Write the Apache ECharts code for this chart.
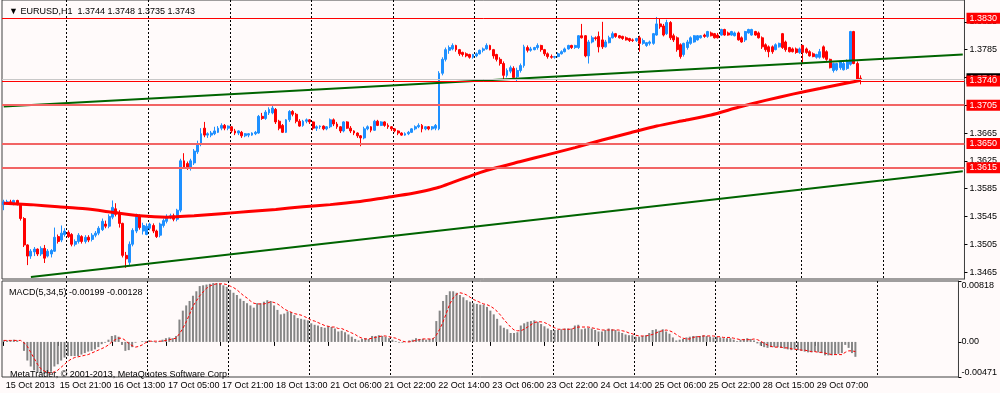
<!DOCTYPE html>
<html><head><meta charset="utf-8">
<script src="https://cdn.jsdelivr.net/npm/echarts@6/dist/echarts.min.js"></script>
<style>html,body{margin:0;padding:0;background:#FFFAFA}#c{width:1000px;height:393px}</style>
</head><body><div id="c"></div><script>
const tickLabels = ['15 Oct 2013','15 Oct 21:00','16 Oct 13:00','17 Oct 05:00','17 Oct 21:00','18 Oct 13:00','21 Oct 06:00','21 Oct 22:00','22 Oct 14:00','23 Oct 06:00','23 Oct 22:00','24 Oct 14:00','25 Oct 06:00','25 Oct 22:00','28 Oct 15:00','29 Oct 07:00'];
const opens = [1.3562,1.3564,1.3566,1.3564,1.3568,1.3562,1.3542,1.3504,1.3488,1.3494,
1.3498,1.3491,1.3499,1.3488,1.3491,1.3495,1.3516,1.3511,1.3519,1.3522,
1.3519,1.3505,1.3509,1.3516,1.3509,1.3515,1.3512,1.3518,1.3521,1.3526,
1.3534,1.3531,1.3544,1.3556,1.3549,1.3535,1.3489,1.3479,1.3505,1.3524,
1.3545,1.3524,1.3519,1.3528,1.3532,1.3524,1.3518,1.3532,1.3538,1.3544,
1.3546,1.3541,1.3554,1.3625,1.3621,1.3614,1.3622,1.3638,1.3649,1.3672,
1.3662,1.3662,1.3664,1.3666,1.3672,1.3676,1.3672,1.3674,1.3668,1.3665,
1.3666,1.3661,1.3662,1.3662,1.3664,1.3665,1.3689,1.3686,1.3694,1.3694,
1.3699,1.3682,1.3676,1.3666,1.3684,1.3696,1.3692,1.3682,1.3676,1.3682,
1.3684,1.3681,1.3672,1.3674,1.3675,1.3671,1.3674,1.3684,1.3678,1.3674,
1.3668,1.3681,1.3672,1.3668,1.3665,1.3661,1.3658,1.3671,1.3674,1.3669,
1.3682,1.3676,1.3681,1.3676,1.3674,1.3671,1.3668,1.3665,1.3662,1.3664,
1.3666,1.3671,1.3674,1.3676,1.3671,1.3674,1.3671,1.3672,1.3671,1.3751,
1.3771,1.3784,1.3786,1.3791,1.3785,1.3781,1.3779,1.3778,1.3774,1.3776,
1.3779,1.3784,1.3786,1.3791,1.3785,1.3778,1.3771,1.3765,1.3748,1.3754,
1.3758,1.3746,1.3755,1.3762,1.3788,1.3784,1.3785,1.3788,1.3791,1.3785,
1.3779,1.3775,1.3774,1.3775,1.3779,1.3782,1.3786,1.3791,1.3788,1.3788,
1.3805,1.3805,1.3776,1.3796,1.3802,1.3804,1.3799,1.3789,1.3795,1.3802,
1.3808,1.3805,1.3804,1.3802,1.3801,1.3799,1.3798,1.3802,1.3794,1.3791,
1.3794,1.3794,1.3806,1.3822,1.3819,1.3808,1.3824,1.3805,1.3802,1.3792,
1.3778,1.3788,1.3794,1.3796,1.3799,1.3802,1.3806,1.3804,1.3809,1.3808,
1.3806,1.3806,1.3814,1.3809,1.3806,1.3805,1.3809,1.3802,1.3799,1.3809,
1.3806,1.3811,1.3809,1.3802,1.3792,1.3789,1.3789,1.3785,1.3789,1.3808,
1.3796,1.3788,1.3786,1.3786,1.3781,1.3791,1.3786,1.3782,1.3779,1.3774,
1.3774,1.3789,1.3782,1.3771,1.3755,1.3756,1.3759,1.3756,1.3758,1.3764,
1.3811,1.3765,1.3744];
const closes = [1.3566,1.3566,1.3564,1.3568,1.3562,1.3542,1.3504,1.3488,1.3495,1.3498,
1.3491,1.3499,1.3485,1.3495,1.3496,1.3515,1.3509,1.3521,1.3524,1.3516,
1.3505,1.3509,1.3518,1.3509,1.3515,1.3511,1.3518,1.3521,1.3528,1.3538,
1.3531,1.3545,1.3558,1.3548,1.3535,1.3489,1.3484,1.3505,1.3525,1.3545,
1.3529,1.3532,1.3531,1.3534,1.3524,1.3516,1.3534,1.3539,1.3545,1.3546,
1.3541,1.3554,1.3625,1.3616,1.3614,1.3625,1.3639,1.3649,1.3664,1.3662,
1.3664,1.3665,1.3668,1.3672,1.3676,1.3672,1.3675,1.3668,1.3665,1.3668,
1.3661,1.3664,1.3664,1.3665,1.3666,1.3689,1.3686,1.3695,1.3699,1.3701,
1.3681,1.3672,1.3666,1.3684,1.3696,1.3692,1.3682,1.3675,1.3682,1.3684,
1.3681,1.3672,1.3674,1.3675,1.3671,1.3674,1.3684,1.3678,1.3674,1.3668,
1.3681,1.3672,1.3668,1.3665,1.3661,1.3658,1.3671,1.3674,1.3669,1.3682,
1.3676,1.3681,1.3676,1.3674,1.3671,1.3668,1.3665,1.3662,1.3664,1.3666,
1.3671,1.3674,1.3676,1.3671,1.3674,1.3671,1.3674,1.3676,1.3751,1.3771,
1.3785,1.3788,1.3791,1.3785,1.3779,1.3778,1.3776,1.3774,1.3778,1.3779,
1.3784,1.3786,1.3791,1.3785,1.3776,1.3771,1.3765,1.3748,1.3755,1.3759,
1.3745,1.3755,1.3762,1.3789,1.3784,1.3786,1.3788,1.3791,1.3785,1.3779,
1.3775,1.3774,1.3775,1.3779,1.3782,1.3786,1.3791,1.3788,1.3791,1.3805,
1.3802,1.3776,1.3796,1.3802,1.3801,1.3789,1.3789,1.3796,1.3802,1.3808,
1.3804,1.3802,1.3801,1.3799,1.3798,1.3798,1.3801,1.3794,1.3798,1.3795,
1.3796,1.3808,1.3822,1.3818,1.3806,1.3824,1.3802,1.3799,1.3785,1.3775,
1.3794,1.3796,1.3802,1.3805,1.3805,1.3805,1.3804,1.3811,1.3805,1.3802,
1.3802,1.3814,1.3806,1.3806,1.3811,1.3809,1.3799,1.3796,1.3811,1.3814,
1.3814,1.3806,1.3802,1.3789,1.3785,1.3782,1.3782,1.3792,1.3794,1.3788,
1.3785,1.3782,1.3782,1.3781,1.3786,1.3781,1.3781,1.3776,1.3775,1.3778,
1.3782,1.3774,1.3771,1.3759,1.3765,1.3765,1.3768,1.3765,1.3768,1.3811,
1.3765,1.3742,1.3743];
const highs = [1.3569,1.3569,1.3569,1.3569,1.3569,1.3564,1.3544,1.3505,1.3498,1.3501,
1.3499,1.3502,1.3504,1.3498,1.3498,1.3529,1.3519,1.3532,1.3528,1.3525,
1.3521,1.3512,1.3521,1.3518,1.3518,1.3518,1.3521,1.3524,1.3531,1.3542,
1.3539,1.3548,1.3568,1.3564,1.3554,1.3536,1.3494,1.3509,1.3528,1.3549,
1.3548,1.3536,1.3535,1.3536,1.3535,1.3526,1.3536,1.3542,1.3548,1.3549,
1.3549,1.3556,1.3628,1.3636,1.3624,1.3628,1.3642,1.3654,1.3672,1.3681,
1.3666,1.3668,1.3674,1.3675,1.3679,1.3678,1.3676,1.3675,1.3671,1.3669,
1.3668,1.3665,1.3665,1.3666,1.3668,1.3691,1.3694,1.3698,1.3702,1.3704,
1.3701,1.3684,1.3678,1.3685,1.3698,1.3698,1.3694,1.3685,1.3684,1.3686,
1.3685,1.3682,1.3676,1.3676,1.3676,1.3675,1.3686,1.3686,1.3681,1.3675,
1.3682,1.3682,1.3675,1.3669,1.3666,1.3662,1.3674,1.3676,1.3675,1.3684,
1.3684,1.3682,1.3682,1.3679,1.3675,1.3672,1.3669,1.3666,1.3666,1.3668,
1.3672,1.3676,1.3679,1.3678,1.3675,1.3675,1.3675,1.3678,1.3754,1.3774,
1.3788,1.3791,1.3794,1.3792,1.3786,1.3782,1.3781,1.3779,1.3779,1.3781,
1.3785,1.3788,1.3794,1.3792,1.3786,1.3779,1.3774,1.3768,1.3758,1.3762,
1.3761,1.3759,1.3765,1.3792,1.3791,1.3789,1.3789,1.3794,1.3792,1.3786,
1.3781,1.3778,1.3776,1.3781,1.3784,1.3788,1.3792,1.3792,1.3792,1.3806,
1.3822,1.3806,1.3799,1.3805,1.3804,1.3811,1.3825,1.3799,1.3805,1.3811,
1.3809,1.3806,1.3805,1.3804,1.3802,1.3801,1.3802,1.3805,1.3801,1.3796,
1.3798,1.3809,1.3832,1.3829,1.3822,1.3828,1.3826,1.3808,1.3804,1.3794,
1.3795,1.3799,1.3804,1.3806,1.3806,1.3806,1.3808,1.3812,1.3811,1.3809,
1.3809,1.3815,1.3815,1.3811,1.3812,1.3811,1.3811,1.3804,1.3812,1.3815,
1.3815,1.3812,1.3811,1.3804,1.3794,1.3791,1.3791,1.3794,1.3795,1.3809,
1.3798,1.3789,1.3788,1.3788,1.3788,1.3792,1.3788,1.3784,1.3781,1.3779,
1.3786,1.3791,1.3784,1.3772,1.3766,1.3766,1.3769,1.3768,1.3771,1.3812,
1.3812,1.3768,1.3748];
const lows = [1.3554,1.3562,1.3562,1.3561,1.3561,1.3539,1.3501,1.3475,1.3484,1.3488,
1.3488,1.3488,1.3478,1.3486,1.3486,1.3494,1.3506,1.3508,1.3516,1.3514,
1.3502,1.3502,1.3506,1.3506,1.3506,1.3508,1.3509,1.3515,1.3518,1.3524,
1.3528,1.3528,1.3541,1.3545,1.3529,1.3486,1.3471,1.3474,1.3502,1.3521,
1.3526,1.3519,1.3518,1.3525,1.3521,1.3514,1.3515,1.3529,1.3535,1.3541,
1.3538,1.3538,1.3551,1.3614,1.3612,1.3611,1.3619,1.3635,1.3646,1.3659,
1.3658,1.3659,1.3662,1.3665,1.3669,1.3669,1.3669,1.3665,1.3662,1.3662,
1.3658,1.3659,1.3659,1.3661,1.3662,1.3664,1.3684,1.3684,1.3691,1.3692,
1.3678,1.3669,1.3665,1.3665,1.3681,1.3689,1.3679,1.3674,1.3674,1.3679,
1.3678,1.3669,1.3668,1.3671,1.3669,1.3669,1.3672,1.3675,1.3671,1.3665,
1.3666,1.3671,1.3665,1.3662,1.3658,1.3646,1.3656,1.3669,1.3666,1.3668,
1.3675,1.3675,1.3674,1.3671,1.3668,1.3666,1.3662,1.3661,1.3661,1.3662,
1.3665,1.3669,1.3672,1.3666,1.3669,1.3669,1.3669,1.3669,1.3669,1.3748,
1.3768,1.3779,1.3784,1.3782,1.3776,1.3775,1.3774,1.3772,1.3772,1.3774,
1.3778,1.3781,1.3785,1.3784,1.3772,1.3768,1.3762,1.3742,1.3745,1.3751,
1.3742,1.3739,1.3752,1.3759,1.3781,1.3782,1.3784,1.3785,1.3782,1.3776,
1.3772,1.3772,1.3772,1.3774,1.3778,1.3781,1.3785,1.3786,1.3786,1.3786,
1.3801,1.3774,1.3765,1.3794,1.3798,1.3781,1.3786,1.3788,1.3794,1.3801,
1.3802,1.3801,1.3799,1.3798,1.3796,1.3796,1.3796,1.3782,1.3792,1.3789,
1.3791,1.3792,1.3805,1.3815,1.3804,1.3806,1.3799,1.3796,1.3782,1.3772,
1.3775,1.3785,1.3792,1.3795,1.3798,1.3801,1.3802,1.3802,1.3804,1.3801,
1.3801,1.3805,1.3805,1.3805,1.3805,1.3804,1.3798,1.3795,1.3796,1.3808,
1.3805,1.3805,1.3801,1.3786,1.3782,1.3774,1.3779,1.3784,1.3788,1.3786,
1.3782,1.3781,1.3781,1.3779,1.3779,1.3765,1.3779,1.3775,1.3774,1.3772,
1.3772,1.3772,1.3769,1.3758,1.3752,1.3754,1.3756,1.3755,1.3756,1.3762,
1.3764,1.3739,1.3735];
const maPoints = [[0,1.3564],[8,1.3562],[16,1.3559],[24,1.3556],[32,1.3551],[40,1.3546],[48,1.3544],[56,1.3546],[64,1.3549],[72,1.3552],[80,1.3555],[88,1.3559],[96,1.3562],[104,1.3566],[112,1.3572],[120,1.3578],[124,1.3582],[128,1.3587],[132,1.3594],[136,1.3601],[140,1.3608],[144,1.3614],[152,1.3624],[160,1.3634],[168,1.3644],[176,1.3655],[184,1.3665],[192,1.3675],[200,1.3683],[208,1.3691],[216,1.3702],[224,1.3712],[232,1.3721],[240,1.3729],[248,1.3737],[252,1.3741]];
const upperTrend = [[0,1.3703],[282,1.3778]];
const lowerTrend = [[8,1.3458],[282,1.3610]];
const priceLevels = [1.3830,1.3740,1.3705,1.3650,1.3615];
const bidPrice = 1.3743;
const priceTicks = [1.3465,1.3505,1.3545,1.3585,1.3625,1.3665,1.3705,1.3745,1.3785,1.3825];
const macdTicks = [0.00818,0,-0.00471];
const macdHist = [0.0002,0.0002,0.0002,0.0003,0.0002,0.0000,-0.0012,-0.0025,-0.0033,-0.0038,
-0.0041,-0.0042,-0.0043,-0.0042,-0.0040,-0.0033,-0.0030,-0.0025,-0.0021,-0.0019,
-0.0019,-0.0019,-0.0019,-0.0017,-0.0015,-0.0013,-0.0012,-0.0010,-0.0007,-0.0003,
-0.0001,0.0003,0.0008,0.0009,0.0007,-0.0004,-0.0012,-0.0011,-0.0007,-0.0001,
0.0000,0.0001,0.0001,0.0002,0.0001,-0.0001,0.0001,0.0003,0.0005,0.0006,
0.0005,0.0008,0.0030,0.0042,0.0049,0.0055,0.0062,0.0068,0.0075,0.0076,
0.0077,0.0078,0.0079,0.0079,0.0078,0.0076,0.0074,0.0070,0.0066,0.0063,
0.0058,0.0055,0.0052,0.0049,0.0046,0.0052,0.0052,0.0054,0.0056,0.0055,
0.0049,0.0043,0.0037,0.0038,0.0041,0.0040,0.0036,0.0032,0.0031,0.0030,
0.0029,0.0025,0.0023,0.0022,0.0020,0.0019,0.0021,0.0020,0.0018,0.0014,
0.0015,0.0013,0.0010,0.0007,0.0004,0.0002,0.0004,0.0005,0.0004,0.0008,
0.0008,0.0009,0.0008,0.0007,0.0005,0.0003,0.0001,-0.0001,-0.0001,0.0000,
0.0002,0.0003,0.0005,0.0004,0.0004,0.0003,0.0004,0.0005,0.0028,0.0042,
0.0055,0.0063,0.0068,0.0068,0.0066,0.0063,0.0060,0.0056,0.0054,0.0052,
0.0051,0.0050,0.0050,0.0047,0.0042,0.0037,0.0031,0.0022,0.0019,0.0017,
0.0012,0.0012,0.0013,0.0022,0.0025,0.0027,0.0028,0.0029,0.0027,0.0024,
0.0021,0.0018,0.0016,0.0016,0.0016,0.0017,0.0018,0.0018,0.0018,0.0022,
0.0023,0.0017,0.0018,0.0019,0.0018,0.0016,0.0014,0.0014,0.0016,0.0018,
0.0017,0.0016,0.0014,0.0012,0.0010,0.0009,0.0009,0.0007,0.0007,0.0008,
0.0009,0.0012,0.0016,0.0017,0.0015,0.0017,0.0014,0.0011,0.0006,0.0002,
0.0003,0.0004,0.0006,0.0007,0.0008,0.0008,0.0008,0.0009,0.0008,0.0007,
0.0006,0.0007,0.0006,0.0005,0.0005,0.0005,0.0003,0.0001,0.0003,0.0004,
0.0005,0.0004,0.0002,-0.0002,-0.0005,-0.0007,-0.0008,-0.0007,-0.0007,-0.0007,
-0.0008,-0.0009,-0.0010,-0.0011,-0.0010,-0.0011,-0.0012,-0.0013,-0.0014,-0.0014,
-0.0013,-0.0014,-0.0015,-0.0018,-0.0018,-0.0018,-0.0017,-0.0016,-0.0015,-0.0004,
-0.0008,-0.0015,-0.0020];
const macdSignal = [0.0002,0.0002,0.0002,0.0002,0.0002,0.0002,-0.0001,-0.0006,-0.0014,-0.0022,
-0.0030,-0.0036,-0.0039,-0.0041,-0.0042,-0.0040,-0.0038,-0.0034,-0.0030,-0.0026,
-0.0023,-0.0021,-0.0020,-0.0019,-0.0018,-0.0017,-0.0015,-0.0013,-0.0011,-0.0009,
-0.0007,-0.0004,0.0000,0.0003,0.0005,0.0005,0.0002,-0.0002,-0.0005,-0.0007,
-0.0006,-0.0004,-0.0001,0.0001,0.0001,0.0001,0.0001,0.0001,0.0002,0.0003,
0.0004,0.0005,0.0011,0.0018,0.0027,0.0037,0.0048,0.0055,0.0062,0.0067,
0.0072,0.0075,0.0077,0.0078,0.0078,0.0078,0.0077,0.0075,0.0073,0.0070,
0.0066,0.0062,0.0059,0.0055,0.0052,0.0051,0.0051,0.0051,0.0052,0.0054,
0.0053,0.0051,0.0048,0.0044,0.0042,0.0040,0.0038,0.0037,0.0036,0.0034,
0.0032,0.0029,0.0028,0.0026,0.0024,0.0022,0.0021,0.0020,0.0020,0.0018,
0.0018,0.0016,0.0014,0.0012,0.0010,0.0007,0.0005,0.0004,0.0004,0.0005,
0.0006,0.0007,0.0008,0.0008,0.0007,0.0006,0.0005,0.0003,0.0001,0.0000,
0.0000,0.0001,0.0002,0.0003,0.0004,0.0004,0.0004,0.0004,0.0009,0.0017,
0.0027,0.0039,0.0051,0.0059,0.0064,0.0066,0.0065,0.0063,0.0060,0.0057,
0.0055,0.0053,0.0051,0.0050,0.0048,0.0045,0.0041,0.0036,0.0030,0.0025,
0.0020,0.0016,0.0015,0.0015,0.0017,0.0020,0.0023,0.0026,0.0027,0.0027,
0.0026,0.0024,0.0021,0.0019,0.0017,0.0017,0.0017,0.0017,0.0017,0.0019,
0.0020,0.0020,0.0020,0.0020,0.0019,0.0018,0.0017,0.0016,0.0016,0.0016,
0.0016,0.0016,0.0016,0.0015,0.0014,0.0012,0.0011,0.0009,0.0008,0.0008,
0.0008,0.0009,0.0010,0.0012,0.0014,0.0015,0.0016,0.0015,0.0013,0.0010,
0.0007,0.0005,0.0004,0.0004,0.0006,0.0007,0.0007,0.0008,0.0008,0.0008,
0.0008,0.0007,0.0007,0.0006,0.0006,0.0006,0.0005,0.0004,0.0003,0.0003,
0.0003,0.0003,0.0004,0.0003,0.0001,-0.0002,-0.0004,-0.0006,-0.0007,-0.0007,
-0.0007,-0.0008,-0.0008,-0.0009,-0.0010,-0.0010,-0.0011,-0.0011,-0.0012,-0.0013,
-0.0013,-0.0014,-0.0014,-0.0015,-0.0016,-0.0017,-0.0017,-0.0017,-0.0017,-0.0014,
-0.0012,-0.0012,-0.0013];

const SLOTS = 283;
const cats = Array.from({length: SLOTS}, (_, i) => String(i));
const candleData = opens.map((o, i) => [o, closes[i], lows[i], highs[i]]);
const FONT = '"Liberation Sans Narrow","Liberation Sans","DejaVu Sans",sans-serif';
const gridLineIv = (i) => i >= 19 && (i - 19) % 24 === 0;
const labelIv = (i) => i % 16 === 0 && i / 16 < tickLabels.length;
const dashed = {show: true, interval: gridLineIv, lineStyle: {color: '#000', type: [2, 2], width: 1}};

const levelLine = (v, strong) => ({
  yAxis: v,
  lineStyle: strong ? {color: '#FF0000', width: 1, type: 'solid'} : {color: '#F26464', width: 2, type: 'solid'},
  label: {backgroundColor: '#FF0000'}
});

const option = {
  backgroundColor: '#FFFAFA',
  animation: false,
  textStyle: {fontFamily: FONT},
  title: [
    {text: '▼ EURUSD,H1  1.3744 1.3748 1.3735 1.3743', left: 4, top: 2, textStyle: {fontSize: 9, fontWeight: 'normal', color: '#000', fontFamily: FONT}},
    {text: 'MACD(5,34,5) -0.00199 -0.00128', left: 4, top: 283, textStyle: {fontSize: 9, fontWeight: 'normal', color: '#000', fontFamily: FONT}},
    {text: 'MetaTrader, © 2001-2013, MetaQuotes Software Corp.', left: 5, top: 365, textStyle: {fontSize: 9, fontWeight: 'normal', color: '#000', fontFamily: FONT}}
  ],
  grid: [
    {left: 2, top: -2, width: 963, height: 281, show: true, borderColor: '#404040', borderWidth: 1, backgroundColor: 'transparent'},
    {left: 2, top: 281, width: 963, height: 96, show: true, borderColor: '#404040', borderWidth: 1, backgroundColor: 'transparent'}
  ],
  xAxis: [
    {type: 'category', gridIndex: 0, data: cats, boundaryGap: true,
     axisLine: {show: false}, axisTick: {show: false}, axisLabel: {show: false}, splitLine: dashed},
    {type: 'category', gridIndex: 1, data: cats, boundaryGap: true,
     axisLine: {show: false},
     axisTick: {show: true, alignWithLabel: true, interval: labelIv, length: 4, lineStyle: {color: '#000'}},
     axisLabel: {show: true, interval: labelIv, formatter: (v, i) => tickLabels[i / 16], align: 'left', margin: 4, fontSize: 9, color: '#000', fontFamily: FONT, padding: [0, 0, 0, 2]},
     splitLine: dashed}
  ],
  yAxis: [
    {type: 'value', gridIndex: 0, position: 'right', min: 1.3455, max: 1.38564, scale: true,
     axisLine: {show: true, lineStyle: {color: '#404040'}},
     axisTick: {show: true, customValues: priceTicks, length: 3, lineStyle: {color: '#000'}},
     axisLabel: {customValues: priceTicks, formatter: (v) => v.toFixed(4), margin: 5, fontSize: 9, color: '#000', fontFamily: FONT},
     splitLine: {show: false}},
    {type: 'value', gridIndex: 1, position: 'right', min: -0.00471, max: 0.00818,
     axisLine: {show: true, lineStyle: {color: '#404040'}},
     axisTick: {show: true, customValues: macdTicks, length: 3, lineStyle: {color: '#000'}},
     axisLabel: {customValues: macdTicks, margin: 3, fontSize: 9, color: '#000', fontFamily: FONT,
       formatter: (v) => v > 0.001 ? '{t|' + v.toFixed(5) + '}' : (v < -0.001 ? '{b|' + v.toFixed(5) + '}' : '0.00'),
       rich: {t: {padding: [10, 0, 0, 0], fontSize: 9, color: '#000', fontFamily: FONT}, b: {padding: [0, 0, 8, 0], fontSize: 9, color: '#000', fontFamily: FONT}}},
     splitLine: {show: false}}
  ],
  series: [
    {type: 'candlestick', xAxisIndex: 0, yAxisIndex: 0, data: candleData, barWidth: 2.4,
     itemStyle: {color: '#1E90FF', color0: '#FF0000', borderColor: '#1E90FF', borderColor0: '#FF0000', borderWidth: 1},
     z: 2,
     markLine: {symbol: ['none', 'none'], silent: true, animation: false, precision: 4,
       label: {show: true, position: 'end', distance: 2, formatter: (p) => Number(p.value).toFixed(4), color: '#fff', fontSize: 9, fontFamily: FONT, padding: [1, 3, 1, 3]},
       data: [
         {yAxis: bidPrice, lineStyle: {color: '#C8C8C8', width: 1, type: 'solid'}, label: {backgroundColor: '#000'}},
         levelLine(priceLevels[0], true),
         levelLine(priceLevels[2], false),
         levelLine(priceLevels[3], false),
         levelLine(priceLevels[4], false),
         levelLine(priceLevels[1], true)
       ]}},
    {type: 'line', xAxisIndex: 0, yAxisIndex: 0, data: upperTrend, showSymbol: false, silent: true, lineStyle: {color: '#006400', width: 2}, z: 3},
    {type: 'line', xAxisIndex: 0, yAxisIndex: 0, data: lowerTrend, showSymbol: false, silent: true, lineStyle: {color: '#006400', width: 2}, z: 3},
    {type: 'line', xAxisIndex: 0, yAxisIndex: 0, data: maPoints, showSymbol: false, silent: true, smooth: 0.2, lineStyle: {color: '#FF0000', width: 3}, z: 4},
    {type: 'bar', xAxisIndex: 1, yAxisIndex: 1, data: macdHist, barWidth: 2, silent: true, itemStyle: {color: '#858585'}},
    {type: 'line', xAxisIndex: 1, yAxisIndex: 1, data: macdSignal, showSymbol: false, silent: true, lineStyle: {color: '#FF0000', width: 1, type: [3, 2]}, z: 4}
  ]
};
const chart = echarts.init(document.getElementById('c'), null, {renderer: 'canvas'});
chart.setOption(option);
</script></body></html>
